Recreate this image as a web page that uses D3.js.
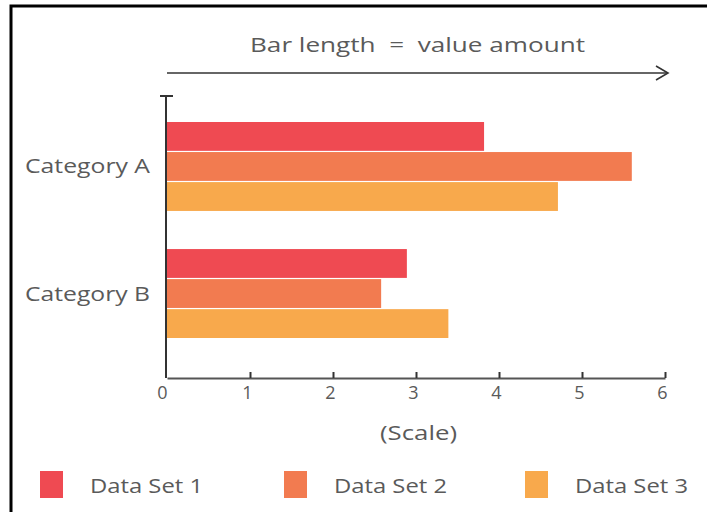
<!DOCTYPE html>
<html>
<head>
<meta charset="utf-8">
<script src="https://cdn.jsdelivr.net/npm/d3@7"></script>
<style>
  html, body { margin: 0; padding: 0; background: #fff; }
  svg { display: block; }
  text { font-family: "Open Sans", "Noto Sans", sans-serif; fill: #5a5a5a; }
</style>
</head>
<body>
<svg id="chart" width="707" height="512"></svg>
<script>
// Chart data
const categories = ["Category A", "Category B"];
const seriesNames = ["Data Set 1", "Data Set 2", "Data Set 3"];
const dataSet1 = [3.82, 2.89];
const dataSet2 = [5.6, 2.58];
const dataSet3 = [4.71, 3.39];
const xTicks = [0, 1, 2, 3, 4, 5, 6];
const seriesColors = ["#ef4a52", "#f27b50", "#f8a94c"];

const seriesValues = [dataSet1, dataSet2, dataSet3];
const rows = categories.map((c, i) => ({
  category: c,
  values: seriesNames.map((s, j) => ({ series: s, value: seriesValues[j][i] }))
}));

const svg = d3.select("#chart");

// Frame
svg.append("path")
  .attr("d", "M11,512 V6 H707")
  .attr("fill", "none")
  .attr("stroke", "#000")
  .attr("stroke-width", 3);

const plotLeft = 167, plotRight = 665, plotTop = 96, plotBottom = 378;

const x = d3.scaleLinear().domain([0, 6]).range([plotLeft, plotRight]);
const y0 = d3.scaleBand().domain(categories).range([plotTop + 26, plotBottom - 40]).paddingInner(0.3);
const y1 = d3.scaleBand().domain(seriesNames).range([0, y0.bandwidth()]).paddingInner(0.04);

// Bars
const groups = svg.append("g").selectAll("g")
  .data(rows).join("g")
  .attr("transform", d => `translate(0,${y0(d.category)})`);

groups.selectAll("rect")
  .data(d => d.values).join("rect")
  .attr("x", x(0))
  .attr("y", d => y1(d.series))
  .attr("height", y1.bandwidth())
  .attr("width", d => x(d.value) - x(0))
  .attr("fill", (d, i) => seriesColors[i]);

// Category labels
svg.append("g").selectAll("text")
  .data(categories).join("text")
  .attr("x", 25)
  .attr("y", d => y0(d) + y0.bandwidth() / 2 + 7)
  .attr("font-size", 20)
  .attr("textLength", 125)
  .attr("lengthAdjust", "spacingAndGlyphs")
  .text(d => d);

// Vertical axis line with top cap
svg.append("line")
  .attr("x1", plotLeft - 1).attr("x2", plotLeft - 1)
  .attr("y1", plotTop).attr("y2", plotBottom)
  .attr("stroke", "#333").attr("stroke-width", 2);
svg.append("line")
  .attr("x1", plotLeft - 7).attr("x2", plotLeft + 6)
  .attr("y1", plotTop).attr("y2", plotTop)
  .attr("stroke", "#333").attr("stroke-width", 2);

// Horizontal scale axis
const xAxis = d3.axisBottom(x)
  .tickValues(xTicks)
  .tickFormat(d3.format("d"))
  .tickSize(0)
  .tickPadding(8);
const gx = svg.append("g")
  .attr("transform", `translate(0,${plotBottom})`)
  .call(xAxis);
gx.select(".domain").attr("stroke", "#555").attr("stroke-width", 2);
gx.selectAll(".tick text")
  .attr("font-size", 18)
  .attr("fill", "#5a5a5a")
  .attr("font-family", "Open Sans, sans-serif")
  .attr("dx", d => d === 0 ? -5 : -3);
gx.selectAll(".tick").filter(d => d > 0).append("line")
  .attr("y1", 0).attr("y2", -6)
  .attr("stroke", "#333").attr("stroke-width", 2);

// Scale caption
svg.append("text")
  .attr("x", 380)
  .attr("y", 440)
  .attr("font-size", 20)
  .attr("textLength", 77)
  .attr("lengthAdjust", "spacingAndGlyphs")
  .text("(Scale)");

// Top arrow and title
svg.append("line")
  .attr("x1", plotLeft).attr("x2", 667)
  .attr("y1", 73).attr("y2", 73)
  .attr("stroke", "#333").attr("stroke-width", 1.6);
svg.append("path")
  .attr("d", "M656,66 L668,73 L656,80")
  .attr("fill", "none")
  .attr("stroke", "#333").attr("stroke-width", 1.6);
svg.append("text")
  .attr("x", 250)
  .attr("y", 52)
  .attr("font-size", 20)
  .attr("textLength", 335)
  .attr("lengthAdjust", "spacingAndGlyphs")
  .style("white-space", "pre")
  .text("Bar length  =  value amount");

// Legend
const legendX = [40, 284, 525];
const legend = svg.append("g").selectAll("g")
  .data(seriesNames).join("g")
  .attr("transform", (d, i) => `translate(${legendX[i]},471)`);
legend.append("rect")
  .attr("width", 23).attr("height", 27)
  .attr("fill", (d, i) => seriesColors[i]);
legend.append("text")
  .attr("x", 50).attr("y", 22)
  .attr("font-size", 20)
  .attr("textLength", 113)
  .attr("lengthAdjust", "spacingAndGlyphs")
  .text(d => d);
</script>
</body>
</html>
